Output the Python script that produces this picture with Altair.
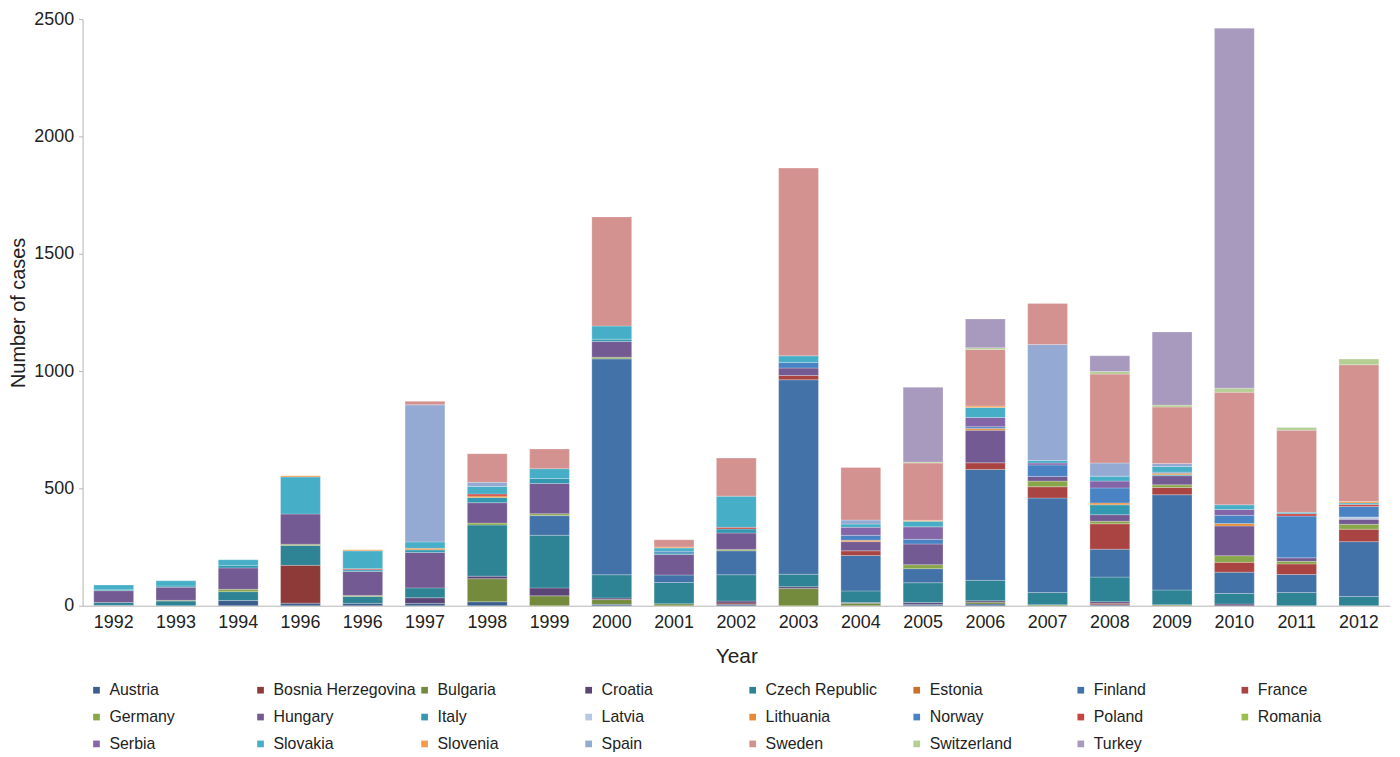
import json
import altair as alt
import pandas as pd

year_labels = ["1992", "1993", "1994", "1996", "1996", "1997", "1998", "1999", "2000", "2001",
               "2002", "2003", "2004", "2005", "2006", "2007", "2008", "2009", "2010", "2011", "2012"]

countries = ["Austria", "Bosnia Herzegovina", "Bulgaria", "Croatia", "Czech Republic", "Estonia",
             "Finland", "France", "Germany", "Hungary", "Italy", "Latvia", "Lithuania", "Norway",
             "Poland", "Romania", "Serbia", "Slovakia", "Slovenia", "Spain", "Sweden",
             "Switzerland", "Turkey"]

colors = ["#3B5E8C", "#8E3A38", "#748A3C", "#5B4577", "#2E8394", "#C7722A",
          "#4372A8", "#A94442", "#8AA64A", "#735A92", "#3398B0", "#B7C8E2", "#E88B36", "#4A83C4",
          "#C9433F", "#9BBE4F", "#8465A8", "#46AEC6", "#F39A4B", "#94AAD2", "#D39290",
          "#B5CE94", "#A899BF"]

#                 92  93  94  95  96   97   98   99   00  01   02   03   04   05   06   07   08   09    10   11   12
austria     = [    2,  0, 22, 11, 10,  10,  17,   0,   6,  0,   6,   0,   0,   6,   7,   0,   4,   0,    0,   0,   0]
bosnia      = [    0,  0,  0,161,  0,   0,   0,   0,   0,  0,   6,   0,   0,   0,   0,   0,   6,   0,    0,   0,   0]
bulgaria    = [    0,  0,  0,  0,  0,   0,  98,  42,  20,  8,   0,  73,  10,   0,   8,   4,   0,   4,    0,   0,   0]
croatia     = [    0,  0,  0,  0,  0,  24,  11,  34,   7,  0,   8,   8,   4,   8,   6,   0,   7,   0,    7,   0,   0]
czech       = [   12, 20, 38, 85, 29,  42, 218, 224,  99, 91, 112,  53,  49,  84,  87,  52, 105,  63,   45,  56,  39]
estonia     = [    0,  0,  0,  0,  0,   0,   0,   0,   0,  0,   0,   0,   0,   0,   0,   0,   0,   0,    0,   0,   0]
finland     = [    0,  0,  0,  0,  0,   0,   0,  84, 920, 32, 102, 829, 151,  60, 473, 403, 119, 406,   91,  77, 234]
france      = [    0,  0,  0,  0,  0,   0,   0,   0,   0,  0,   0,  18,  20,   0,  28,  48, 108,  31,   42,  45,  53]
germany     = [    0,  3, 10,  5,  5,   0,   8,   8,   7,  0,   6,   0,   0,  17,   0,  24,  11,  11,   28,  11,  21]
hungary     = [   50, 56, 91,129,102, 151,  87, 129,  67, 87,  70,  32,  39,  88, 139,  20,  28,  39,  127,  15,  21]
italy       = [    4,  5, 11,  0,  7,  11,  22,  21,  10,  7,  17,   0,   0,   0,   0,   0,  42,   4,    0,   0,   0]
latvia      = [    0,  0,  0,  0,  0,   0,   0,   0,   0,  0,   0,   0,   0,   0,   0,   0,   0,   0,    0,   0,  10]
lithuania   = [    0,  0,  0,  0,  0,   7,   7,   0,   0,  0,   0,   0,   6,   0,   7,   0,   8,   7,   10,   0,   0]
norway      = [    0,  0,  0,  0,  0,   0,   0,   0,   0,  7,   0,  24,  21,  20,   8,  49,  64,   4,   35, 178,  45]
poland      = [    0,  0,  0,  0,  5,   0,   8,   0,   0,  0,   7,   0,   0,   0,   0,   0,   0,   0,    0,  10,   8]
romania     = [    0,  0,  0,  0,  0,   0,   0,   0,   0,  0,   0,   0,   0,   0,   0,   0,   0,   0,    0,   0,   0]
serbia      = [    0,  0,  0,  0,  0,   0,   0,   0,   0,  0,   0,   0,  34,  53,  39,   8,  29,   0,   25,   0,   0]
slovakia    = [   20, 22, 24,158, 76,  27,  32,  42,  56, 14, 133,  28,  14,  24,  43,  11,  21,  24,   20,   6,   7]
slovenia    = [    0,  0,  0,  5,  5,   0,   0,   0,   0,  4,   0,   0,   0,   4,   6,   0,   0,   0,    0,   0,   6]
spain       = [    0,  0,  0,  0,  0, 584,  18,   0,   0,  0,   0,   0,  17,   0,   0, 494,  56,  13,    0,   0,   0]
sweden      = [    0,  0,  0,  0,  0,  15, 122,  84, 465, 31, 162, 800, 224, 244, 241, 175, 379, 241,  480, 350, 583]
switzerland = [    0,  0,  0,  0,  0,   0,   0,   0,   0,  0,   0,   0,   0,   4,   7,   0,  11,   8,   17,  11,  24]
turkey      = [    0,  0,  0,  0,  0,   0,   0,   0,   0,  0,   0,   0,   0, 319, 123,   0,  67, 312, 1534,   0,   0]

series = [austria, bosnia, bulgaria, croatia, czech, estonia, finland, france, germany, hungary,
          italy, latvia, lithuania, norway, poland, romania, serbia, slovakia, slovenia, spain,
          sweden, switzerland, turkey]

rows = []
for k, (c, vals) in enumerate(zip(countries, series)):
    for i, v in enumerate(vals):
        if v > 0:
            rows.append({"bar": i, "country": c, "k": k, "cases": v})
df = pd.DataFrame(rows)

FONT = "Liberation Sans"
label_expr = json.dumps(year_labels) + "[datum.value]"

chart = alt.Chart(df).mark_bar(stroke="white", strokeWidth=0.5, strokeOpacity=0.5).encode(
    x=alt.X("bar:O",
            scale=alt.Scale(domain=list(range(len(year_labels))), paddingInner=0.36, paddingOuter=0.18),
            axis=alt.Axis(title="Year", labelExpr=label_expr, labelAngle=0, ticks=False,
                          labelFontSize=18, titleFontSize=21, titleFontWeight="normal",
                          labelPadding=8, titlePadding=14, domainColor="#b5b5b5",
                          labelColor="#222", titleColor="#222", labelFont=FONT, titleFont=FONT)),
    y=alt.Y("sum(cases):Q",
            scale=alt.Scale(domain=[0, 2500]),
            axis=alt.Axis(title="Number of cases", values=[0, 500, 1000, 1500, 2000, 2500],
                          format="d", grid=False, tickSize=4, tickColor="#b5b5b5",
                          domainColor="#b5b5b5",
                          labelFontSize=18, titleFontSize=20, titleFontWeight="normal",
                          labelPadding=5, titlePadding=5, labelColor="#222", titleColor="#222",
                          labelFont=FONT, titleFont=FONT)),
    color=alt.Color("country:N",
                    scale=alt.Scale(domain=countries, range=colors),
                    sort=countries,
                    legend=alt.Legend(title=None, orient="none", legendX=6, legendY=667,
                                      direction="horizontal",
                                      columns=8, gridAlign="all", symbolType="square",
                                      symbolSize=45, symbolStrokeWidth=0, labelFontSize=16,
                                      labelFont=FONT, labelColor="#222", columnPadding=0,
                                      rowPadding=11, labelOffset=5, labelLimit=200)),
    order=alt.Order("k:Q", sort="ascending"),
).properties(
    width=1315, height=590,
    autosize=alt.AutoSizeParams(type="none"),
    padding={"left": 75, "top": 9, "right": 2, "bottom": 150},
).configure_view(stroke=None)

chart.save("out.html", embed_options={"renderer": "svg", "actions": False})
